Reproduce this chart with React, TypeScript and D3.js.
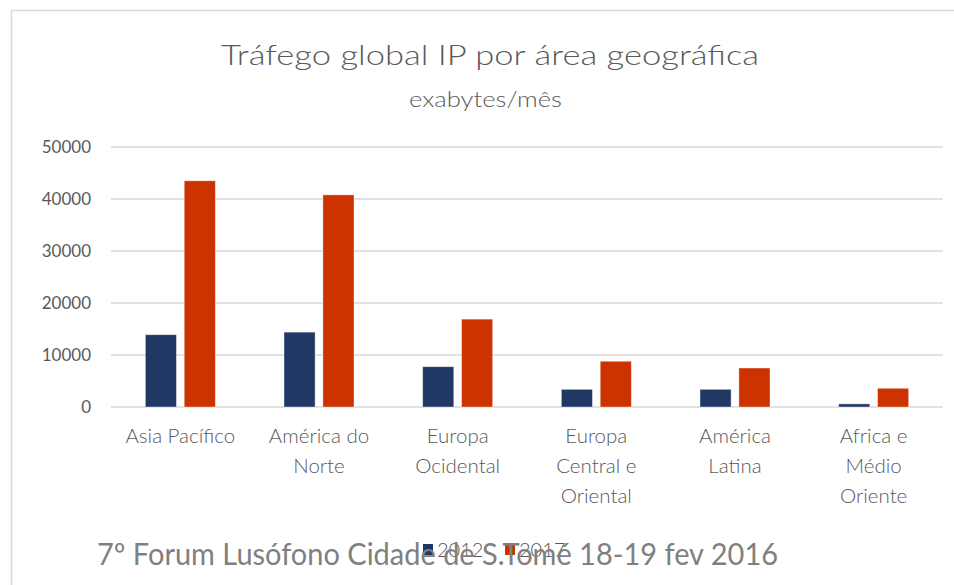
import React from "react";
import * as d3 from "d3";

const categories = ["Asia Pacífico", "América do Norte", "Europa Ocidental", "Europa Central e Oriental", "América Latina", "Africa e Médio Oriente"];
const categoryLines = [
  ["Asia Pacífico"],
  ["América do", "Norte"],
  ["Europa", "Ocidental"],
  ["Europa", "Central e", "Oriental"],
  ["América", "Latina"],
  ["Africa e", "Médio", "Oriente"],
];
const seriesNames = ["2012", "2017"];
const values2012 = [13900, 14400, 7750, 3400, 3400, 600];
const values2017 = [43500, 40800, 16900, 8800, 7500, 3600];
const yTicks = [0, 10000, 20000, 30000, 40000, 50000];
const colors = ["#203864", "#CC3300"];

const W = 954;
const H = 585;
const FONT = "Lato, 'Open Sans', sans-serif";

export default function App() {
  const x0 = d3.scaleBand<string>().domain(categories).range([111, 943]).padding(0);
  const x1 = d3.scaleBand<string>().domain(seriesNames).range([-35, 35]).paddingInner(0.2);
  const y = d3.scaleLinear().domain([0, 50000]).range([407, 147]);
  const seriesValues = [values2012, values2017];

  return (
    <div style={{ position: "absolute", left: 0, top: 0 }}>
      <svg width={W} height={H} style={{ display: "block", background: "#fff" }} fontFamily={FONT}>
        <rect x={0} y={0} width={W} height={H} fill="#fff" />
        {/* chart border */}
        <line x1={11} x2={W} y1={10.5} y2={10.5} stroke="#d9d9d9" strokeWidth={1.5} />
        <line x1={11.5} x2={11.5} y1={10} y2={H} stroke="#d9d9d9" strokeWidth={1.5} />

        {/* title */}
        <text x={221} y={65} fontSize={27} fill="#595959" textLength={538} lengthAdjust="spacingAndGlyphs" fontWeight={300}>
          Tráfego global IP por área geográfica
        </text>
        <text x={409} y={107} fontSize={21} fill="#595959" textLength={153} lengthAdjust="spacingAndGlyphs" fontWeight={300}>
          exabytes/mês
        </text>

        {/* gridlines */}
        {yTicks.map((t) => (
          <g key={t}>
            <line x1={111} x2={943} y1={y(t)} y2={y(t)} stroke="#d9d9d9" strokeWidth={1.5} />
            <text x={91} y={y(t)} dy="0.35em" textAnchor="end" fontSize={17} fill="#595959">
              {t}
            </text>
          </g>
        ))}

        {/* bars */}
        {categories.map((c, i) => {
          const cx = (x0(c) as number) + x0.bandwidth() / 2;
          return (
            <g key={c}>
              {seriesNames.map((s, j) => (
                <rect
                  key={s}
                  x={cx + (x1(s) as number)}
                  y={y(seriesValues[j][i])}
                  width={x1.bandwidth()}
                  height={y(0) - y(seriesValues[j][i])}
                  fill={colors[j]}
                  stroke="#ffffff"
                  strokeOpacity={0.5}
                  strokeWidth={0.8}
                />
              ))}
              {categoryLines[i].map((ln, k) => (
                <text key={k} x={cx} y={443 + k * 30} textAnchor="middle" fontSize={20.5} fontWeight={300} fill="#595959">
                  {ln}
                </text>
              ))}
            </g>
          );
        })}

        {/* legend (drawn beneath the footer, as in the reference) */}
        {seriesNames.map((s, j) => (
          <g key={s} transform={`translate(${423 + j * 82},0)`}>
            <rect x={0} y={544} width={10} height={11} fill={colors[j]} />
            <text x={14} y={549.5} dy="0.35em" fontSize={20} fontWeight={300} fill="#595959">
              {s}
            </text>
          </g>
        ))}

        {/* footer */}
        <text x={97} y={565} fontSize={30} fill="#808080" textLength={681} lengthAdjust="spacingAndGlyphs">
          7º Forum Lusófono Cidade de S.Tomé 18-19 fev 2016
        </text>
      </svg>
    </div>
  );
}
